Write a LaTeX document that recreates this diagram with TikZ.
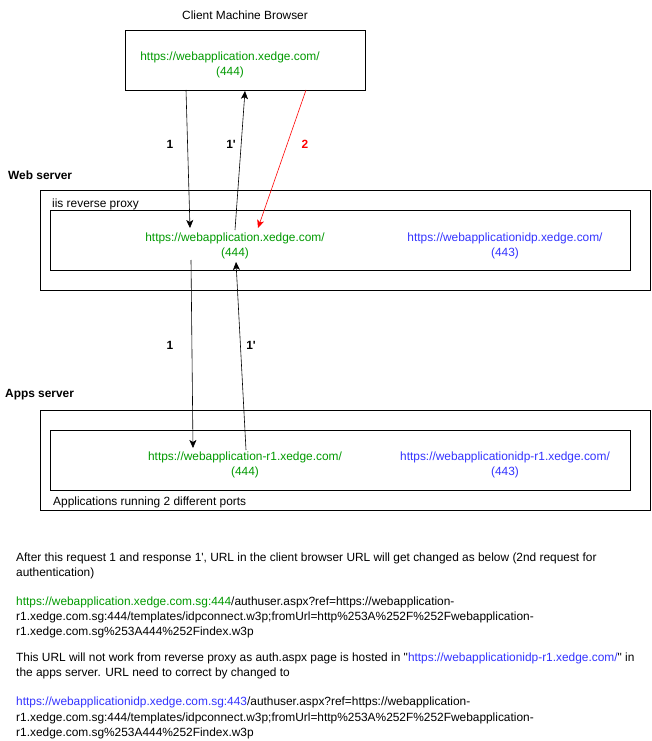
\documentclass[tikz,border=0pt]{standalone}
\usepackage{fontspec}
\setmainfont{Liberation Sans}[Ligatures=TeXOff]
\usepackage{xcolor}
\usetikzlibrary{arrows.meta}
\definecolor{urlgreen}{HTML}{009900}
\definecolor{urlblue}{HTML}{3333FF}

\begin{document}
\begin{tikzpicture}[x=1pt,y=-1pt,
        every node/.style={font=\fontsize{11.9}{15}\selectfont, inner sep=0pt},
        frame/.style={draw, line width=0.8pt},
        link/.style={line width=0.6pt, -{Stealth[length=8pt,width=7pt,inset=2pt]}},
        hop/.style={font=\bfseries\fontsize{11.9}{15}\selectfont},
        para/.style={anchor=base west}]
        \useasboundingbox (0,0) rectangle (651,741);
        % client
        \node (clienttitle) at (245,15) {Client Machine Browser};
        \node[frame, minimum width=240pt, minimum height=60pt] (client) at (245,60) {};
        \node[align=center, text=urlgreen] (clienturl) at (230,65) {https://webapplication.xedge.com/\\(444)};
        % web server
        \node[hop, anchor=west] (webtitle) at (8,175) {Web server};
        \node[frame, minimum width=610pt, minimum height=100pt] (web) at (345,240) {};
        \node[frame, minimum width=580pt, minimum height=60pt] (proxy) at (340,240) {};
        \node[anchor=west] (proxytitle) at (52,204) {iis reverse proxy};
        \node[align=center, text=urlgreen] (proxyapp) at (235,246) {https://webapplication.xedge.com/\\(444)};
        \node[align=center, text=urlblue] (proxyidp) at (505,246) {https://webapplicationidp.xedge.com/\\(443)};
        % apps server
        \node[hop, anchor=west] (appstitle) at (5,395) {Apps server};
        \node[frame, minimum width=610pt, minimum height=100pt] (apps) at (345,460) {};
        \node[frame, minimum width=580pt, minimum height=60pt] (ports) at (340,460) {};
        \node[anchor=west] (portstitle) at (53,502) {Applications running 2 different ports};
        \node[align=center, text=urlgreen] (appsapp) at (245,465) {https://webapplication-r1.xedge.com/\\(444)};
        \node[align=center, text=urlblue] (appsidp) at (505,465) {https://webapplicationidp-r1.xedge.com/\\(443)};
        % connector ends
        \coordinate (c1) at (186,90);
        \coordinate (p1) at (190,228);
        \coordinate (p1r) at (235,230);
        \coordinate (c1r) at (245,91);
        \coordinate (c2) at (306,90);
        \coordinate (p2) at (258,228);
        \coordinate (q1) at (191,260);
        \coordinate (a1) at (193,448);
        \coordinate (a1r) at (246,450);
        \coordinate (q1r) at (236,262);
        \draw[link] (c1) -- (p1);
        \draw[link] (p1r) -- (c1r);
        \draw[link, red] (c2) -- (p2);
        \draw[link] (q1) -- (a1);
        \draw[link] (a1r) -- (q1r);
        \node[hop] (l1) at (170,144) {1};
        \node[hop] (l1r) at (231,144) {1'};
        \node[hop, text=red] (l2) at (305,144) {2};
        \node[hop] (m1) at (170,345) {1};
        \node[hop] (m1r) at (251,345) {1'};
        % notes
        \node[para] (n1) at (16,561) {After this request 1 and response 1', URL in the client browser URL will get changed as below (2nd request for};
        \node[para] (n2) at (16,576) {authentication)};
        \node[para] (n3) at (16,605) {\textcolor{urlgreen}{https://webapplication.xedge.com.sg:444}/authuser.aspx?ref=https://webapplication-};
        \node[para] (n4) at (16,620) {r1.xedge.com.sg:444/templates/idpconnect.w3p;fromUrl=http\%253A\%252F\%252Fwebapplication-};
        \node[para] (n5) at (16,635) {r1.xedge.com.sg\%253A444\%252Findex.w3p};
        \node[para] (n6) at (16,661) {This URL will not work from reverse proxy as auth.aspx page is hosted in "\textcolor{urlblue}{https://webapplicationidp-r1.xedge.com/}" in};
        \node[para] (n7) at (16,676) {the apps server. URL need to correct by changed to};
        \node[para] (n8) at (16,705) {\textcolor{urlblue}{https://webapplicationidp.xedge.com.sg:443}/authuser.aspx?ref=https://webapplication-};
        \node[para] (n9) at (16,721) {r1.xedge.com.sg:444/templates/idpconnect.w3p;fromUrl=http\%253A\%252F\%252Fwebapplication-};
        \node[para] (n10) at (16,736) {r1.xedge.com.sg\%253A444\%252Findex.w3p};
    \end{tikzpicture}
\end{document}
